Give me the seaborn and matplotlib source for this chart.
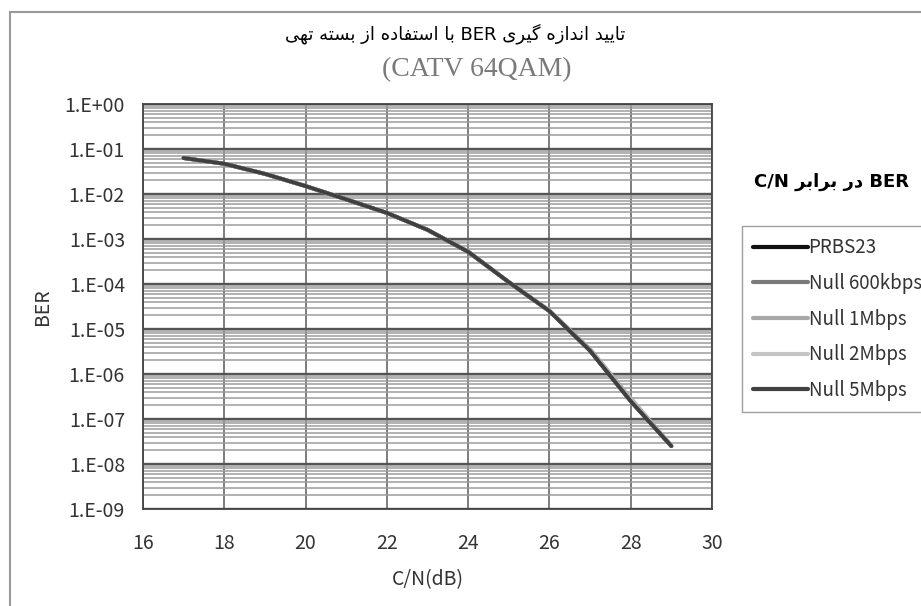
import numpy as np
import pandas as pd
import matplotlib
matplotlib.use('Agg')
import matplotlib.pyplot as plt
from matplotlib.ticker import LogLocator, NullFormatter
from matplotlib.patches import Rectangle
import seaborn as sns

# data
cn_db = [17, 18, 19, 20, 21, 22, 23, 24, 25, 26, 27, 28, 29]
ber_prbs23 = [6.3e-2, 4.7e-2, 2.8e-2, 1.5e-2, 7.6e-3, 3.8e-3, 1.6e-3, 5.2e-4, 1.1e-4, 2.5e-5, 3.3e-6, 2.5e-7, 2.5e-8]
ber_null_600k = [6.3e-2, 4.7e-2, 2.8e-2, 1.5e-2, 7.6e-3, 3.8e-3, 1.6e-3, 5.2e-4, 1.1e-4, 2.5e-5, 3.3e-6, 2.5e-7, 2.5e-8]
ber_null_1m = [6.3e-2, 4.7e-2, 2.8e-2, 1.5e-2, 7.6e-3, 3.8e-3, 1.6e-3, 5.3e-4, 1.1e-4, 2.6e-5, 3.6e-6, 2.9e-7, 2.6e-8]
ber_null_2m = [6.3e-2, 4.7e-2, 2.8e-2, 1.5e-2, 7.6e-3, 3.8e-3, 1.6e-3, 5.2e-4, 1.1e-4, 2.5e-5, 3.4e-6, 2.7e-7, 2.5e-8]
ber_null_5m = [6.3e-2, 4.7e-2, 2.8e-2, 1.5e-2, 7.6e-3, 3.8e-3, 1.6e-3, 5.2e-4, 1.1e-4, 2.5e-5, 3.3e-6, 2.5e-7, 2.5e-8]

series_names = ['PRBS23', 'Null 600kbps', 'Null 1Mbps', 'Null 2Mbps', 'Null 5Mbps']
series_colors = ['#111111', '#7a7a7a', '#a8a8a8', '#c4c4c4', '#404040']
y_ticks = [1e0, 1e-1, 1e-2, 1e-3, 1e-4, 1e-5, 1e-6, 1e-7, 1e-8, 1e-9]
y_tick_labels = ['1.E+00', '1.E-01', '1.E-02', '1.E-03', '1.E-04',
                 '1.E-05', '1.E-06', '1.E-07', '1.E-08', '1.E-09']
x_ticks = [16, 18, 20, 22, 24, 26, 28, 30]

# matplotlib has no arabic shaping, so pick the joined forms by hand
FORMS = {
    'ا': ('\uFE8D', '\uFE8E', None, None),
    'ب': ('\uFE8F', '\uFE90', '\uFE91', '\uFE92'),
    'ت': ('\uFE95', '\uFE96', '\uFE97', '\uFE98'),
    'د': ('\uFEA9', '\uFEAA', None, None),
    'ر': ('\uFEAD', '\uFEAE', None, None),
    'ز': ('\uFEAF', '\uFEB0', None, None),
    'س': ('\uFEB1', '\uFEB2', '\uFEB3', '\uFEB4'),
    'ف': ('\uFED1', '\uFED2', '\uFED3', '\uFED4'),
    'ن': ('\uFEE5', '\uFEE6', '\uFEE7', '\uFEE8'),
    'ه': ('\uFEE9', '\uFEEA', '\uFEEB', '\uFEEC'),
    'ی': ('\uFBFC', '\uFBFD', '\uFBFE', '\uFBFF'),
    'گ': ('\uFB92', '\uFB93', '\uFB94', '\uFB95'),
}


def shape_word(w):
    out = []
    for i, ch in enumerate(w):
        if ch not in FORMS:
            out.append(ch)
            continue
        prev_joins = i > 0 and w[i - 1] in FORMS and FORMS[w[i - 1]][2] is not None
        next_joins = i < len(w) - 1 and w[i + 1] in FORMS and FORMS[ch][2] is not None
        if prev_joins and next_joins:
            out.append(FORMS[ch][3])
        elif prev_joins:
            out.append(FORMS[ch][1])
        elif next_joins:
            out.append(FORMS[ch][2])
        else:
            out.append(FORMS[ch][0])
    return ''.join(reversed(out))


def rtl(phrase):
    return ' '.join(shape_word(w) for w in reversed(phrase.split()))


# long table for seaborn
frames = []
for name, vals in zip(series_names, [ber_prbs23, ber_null_600k, ber_null_1m, ber_null_2m, ber_null_5m]):
    frames.append(pd.DataFrame({'C/N': cn_db, 'BER': vals, 'series': name}))
df = pd.concat(frames, ignore_index=True)

sns.set_theme(style='white')
plt.rcParams['font.family'] = ['DejaVu Sans']
cjk = ['Noto Sans CJK JP', 'DejaVu Sans']

fig = plt.figure(figsize=(9.21, 6.06), dpi=100)
ax = fig.add_axes([143 / 921, 1 - 509 / 606, (712 - 143) / 921, (509 - 104) / 606])

sns.lineplot(data=df, x='C/N', y='BER', hue='series', hue_order=series_names,
             palette=series_colors, linewidth=2.8, ax=ax, legend=False, zorder=5)

ax.set_yscale('log')
ax.set_ylim(1e-9, 1)
ax.set_xlim(16, 30)
ax.set_xticks(x_ticks)
ax.set_xticklabels([str(t) for t in x_ticks], family=cjk, fontsize=14)
ax.set_yticks(y_ticks)
ax.set_yticklabels(y_tick_labels, family=cjk, fontsize=14)
ax.yaxis.set_minor_locator(LogLocator(base=10, subs=np.arange(2, 10)))
ax.yaxis.set_minor_formatter(NullFormatter())
ax.tick_params(axis='both', which='both', length=0, colors='#333333')
ax.tick_params(axis='x', pad=17)
ax.tick_params(axis='y', pad=13)

# grid lines
ax.grid(which='minor', axis='y', color='#9c9c9c', linewidth=1.1)
ax.grid(which='major', axis='y', color='#555555', linewidth=1.7)
ax.grid(which='major', axis='x', color='#666666', linewidth=1.2)
ax.set_axisbelow(True)
for s in ax.spines.values():
    s.set_color('#444444')
    s.set_linewidth(1.3)

ax.set_xlabel('C/N(dB)', family=cjk, fontsize=14, color='#333333', labelpad=11)
ax.set_ylabel('BER', family=cjk, fontsize=14, color='#333333', labelpad=8)

# titles
title_text = rtl('با استفاده از بسته تهی') + ' BER ' + rtl('تایید اندازه گیری')
fig.text(455 / 921, 1 - 34 / 606, title_text, ha='center', va='center', fontsize=13, color='black')
fig.text(477 / 921, 1 - 70 / 606, '(CATV 64QAM)', ha='center', va='center', fontsize=20,
         color='#7a7a7a', family=['Liberation Serif', 'DejaVu Serif'])

# legend
legend_title = 'C/N ' + rtl('در برابر') + ' BER'
fig.text(831 / 921, 1 - 182 / 606, legend_title, ha='center', va='center', fontsize=13,
         fontweight='bold', color='black')
handles = [plt.Line2D([], [], color=c, linewidth=3) for c in series_colors]
leg = fig.legend(handles, series_names, loc='upper left', bbox_to_anchor=(742 / 921, 1 - 226 / 606),
                 frameon=True, fancybox=False, handlelength=2.9, handletextpad=0.05,
                 labelspacing=0.78, borderpad=0.6, borderaxespad=0,
                 prop={'family': cjk, 'size': 13.5})
leg.get_frame().set_edgecolor('#888888')
leg.get_frame().set_linewidth(1.0)
for t in leg.get_texts():
    t.set_color('#333333')

# outer frame of the chart area
fig.patches.append(Rectangle((10 / 921, -0.05), 1.1, 1 - 12 / 606 + 0.05, transform=fig.transFigure,
                             fill=False, edgecolor='#999999', linewidth=1.5))

fig.savefig('out.png', dpi=100)
